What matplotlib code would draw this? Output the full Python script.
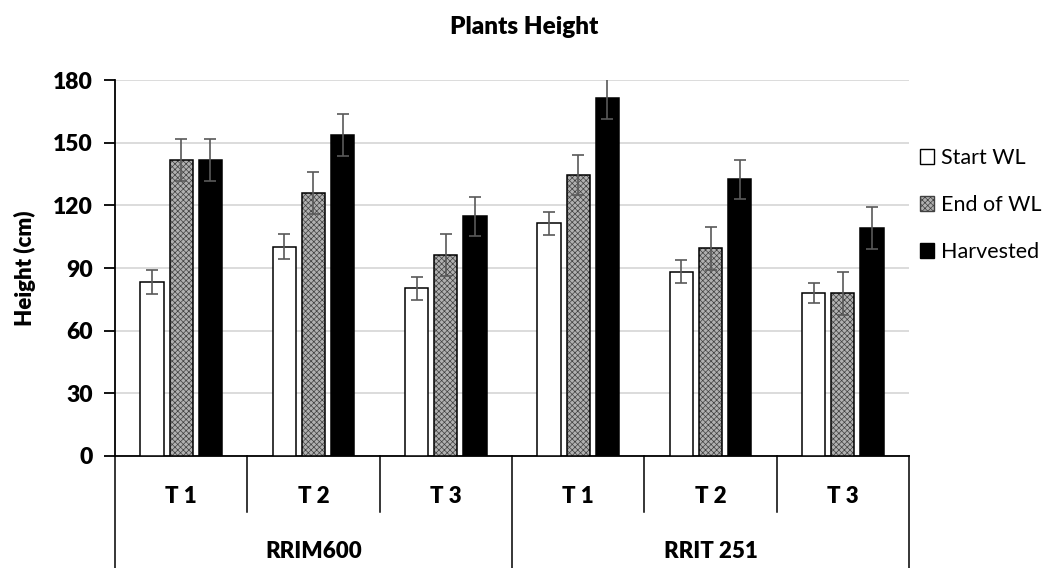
import numpy as np
import matplotlib.pyplot as plt
import matplotlib.transforms as mtransforms
from matplotlib.patches import Patch

plt.rcParams['font.family'] = ['Lato', 'DejaVu Sans']
plt.rcParams['hatch.linewidth'] = 0.5

# data
groups = ["RRIM600", "RRIT 251"]
treatments = ["T 1", "T 2", "T 3", "T 1", "T 2", "T 3"]
series = ["Start WL", "End of WL", "Harvested"]
start_wl = [83.4, 100.2, 80.3, 111.4, 88.2, 77.9]
end_wl = [141.8, 125.9, 96.2, 134.5, 99.4, 77.9]
harvested = [141.8, 153.8, 114.7, 171.5, 132.4, 109.1]
start_err = [5.6, 6.0, 5.5, 5.6, 5.6, 4.8]
end_err = [10.0, 10.0, 10.2, 9.6, 10.4, 10.3]
harv_err = [10.0, 10.0, 9.5, 10.0, 9.4, 10.0]

fig = plt.figure(figsize=(10.48, 5.68), dpi=100)
ax = fig.add_axes([0.1097, 0.1972, 0.7577, 0.6618])

x = np.arange(len(treatments))
w = 0.175
off = 0.22
ekw = dict(ecolor="#595959", elinewidth=1.2, capsize=4.5, capthick=1.2)
bold = "heavy"

ax.bar(x - off, start_wl, w, color="white", edgecolor="black", lw=1.1,
       yerr=start_err, error_kw=ekw, zorder=3)
# checker fill for "End of WL"
ax.bar(x, end_wl, w, color="#b0b0b0", edgecolor="#404040", lw=0, hatch="xxxxxx", zorder=3)
ax.bar(x, end_wl, w, color="none", edgecolor="black", lw=1.1,
       yerr=end_err, error_kw=ekw, zorder=4)
ax.bar(x + off, harvested, w, color="black", edgecolor="black", lw=1.1,
       yerr=harv_err, error_kw=ekw, zorder=3)

ax.set_xlim(-0.5, len(treatments) - 0.5)
ax.set_ylim(0, 180)
ax.set_yticks(range(0, 181, 30))
ax.yaxis.grid(True, color="#d9d9d9", lw=1.3)
ax.set_axisbelow(True)
for s in ["top", "right"]:
    ax.spines[s].set_visible(False)
ax.spines["left"].set_linewidth(1.3)
ax.spines["bottom"].set_linewidth(1.3)
ax.set_xticks([])
ax.tick_params(axis="y", length=8, width=1.3, labelsize=16.5, pad=8)
for t in ax.get_yticklabels():
    t.set_fontweight(bold)

# two-level category axis below the plot
trans = mtransforms.blended_transform_factory(ax.transData, ax.transAxes)
for b in np.arange(-0.5, len(treatments), 1.0):
    bottom = -0.30 if b in (-0.5, 2.5, 5.5) else -0.149
    ax.plot([b, b], [0, bottom], color="black", lw=1.1, transform=trans, clip_on=False)
for i, t in enumerate(treatments):
    ax.text(i, -0.108, t, transform=trans, ha="center", va="center",
            fontsize=16, fontweight=bold)
for j, g in enumerate(groups):
    ax.text(1 + 3 * j, -0.255, g, transform=trans, ha="center", va="center",
            fontsize=16, fontweight=bold)

ax.set_ylabel("Height (cm)", fontsize=16, fontweight=bold, labelpad=12)
fig.text(0.5, 0.952, "Plants Height", ha="center", va="center",
         fontsize=17.5, fontweight=bold)

handles = [Patch(facecolor="white", edgecolor="black", lw=1),
           Patch(facecolor="#b0b0b0", edgecolor="#404040", hatch="xxxxxx", lw=1),
           Patch(facecolor="black", edgecolor="black", lw=1)]
fig.legend(handles, series, loc="center left", bbox_to_anchor=(0.866, 0.639),
           frameon=False, fontsize=15.5, handlelength=0.65, handleheight=0.65,
           handletextpad=0.3, labelspacing=1.25, borderaxespad=0.2)

fig.savefig("out.png", dpi=100)
